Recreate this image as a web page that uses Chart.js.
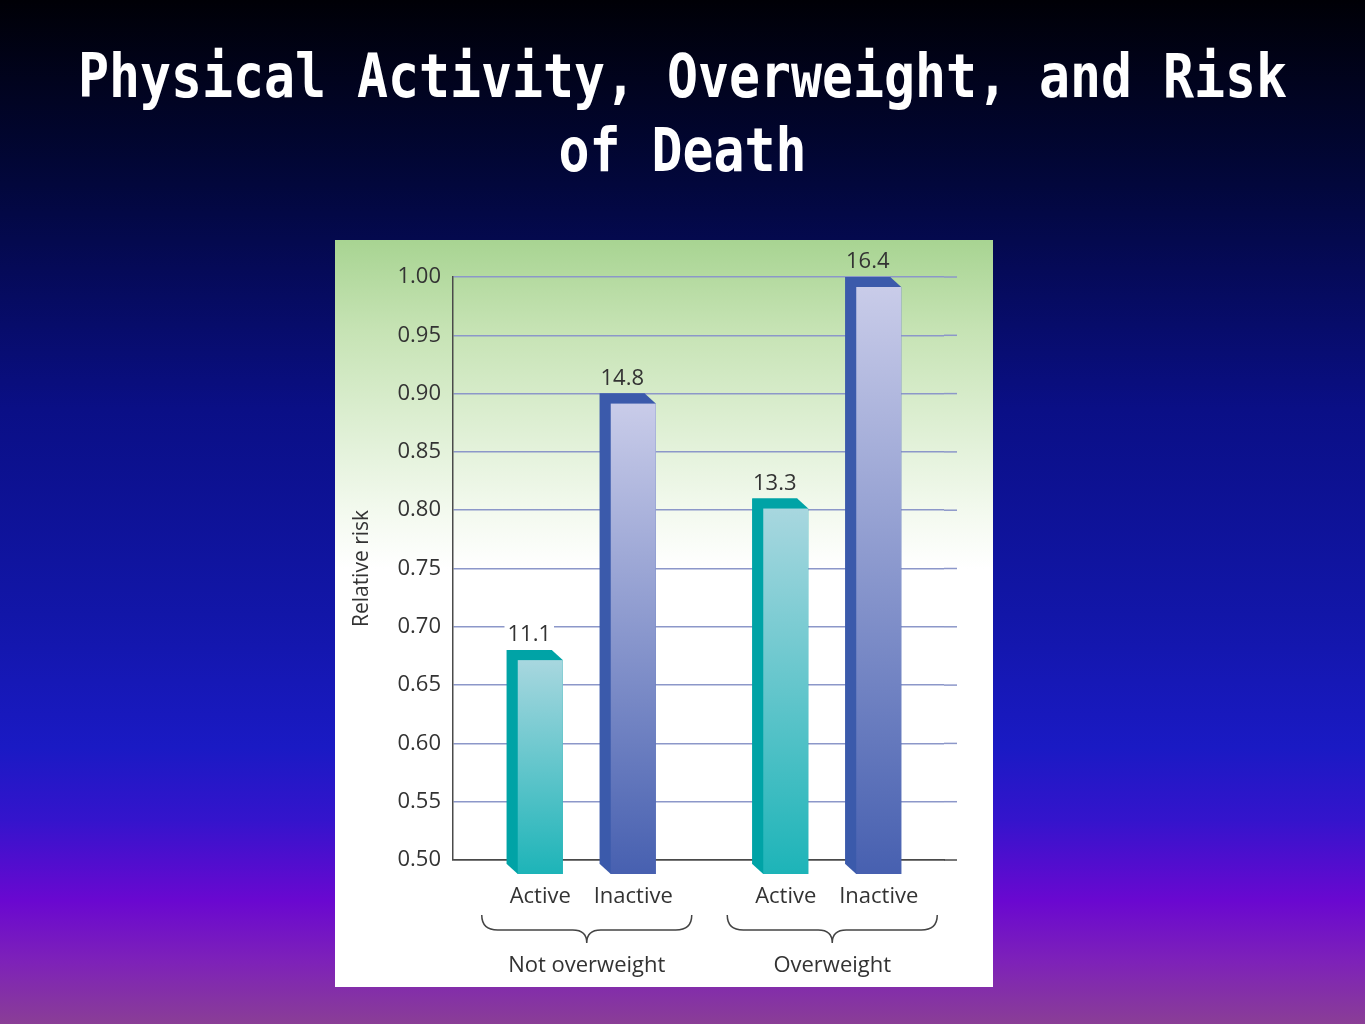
<!DOCTYPE html>
<html>
<head>
<meta charset="utf-8">
<title>Physical Activity, Overweight, and Risk of Death</title>
<script src="https://cdn.jsdelivr.net/npm/chart.js@4.4.1/dist/chart.umd.min.js"></script>
<style>
  html, body { margin: 0; padding: 0; }
  body {
    width: 1365px; height: 1024px; overflow: hidden; position: relative;
    background: linear-gradient(to bottom, #000006 0%, #02073c 18%, #0a0f86 40%, #1216a8 60%,
      #1a1ac4 73%, #3414cc 80%, #6a08d0 88%, #7e22b8 94%, #8a3e96 100%);
  }
  #title {
    position: absolute; left: 0; top: 40px; width: 1365px;
    text-align: center; color: #fff; white-space: pre;
    font: bold 51.5px/63px 'DejaVu Sans Mono', monospace;
    transform: scaleY(1.17); transform-origin: top center;
  }
  #panel {
    position: absolute; left: 335px; top: 240px; width: 658px; height: 747px;
    background: #fff;
  }
</style>
</head>
<body>
<div id="title">Physical Activity, Overweight, and Risk
of Death</div>
<div id="panel"><canvas id="riskChart"></canvas></div>

<script>
// data
const groupNames = ['Not overweight', 'Overweight'];
const barNames = ['Active', 'Inactive'];
const activeRisk = [0.68, 0.81];
const inactiveRisk = [0.90, 1.00];
const activeRate = [11.1, 13.3];
const inactiveRate = [14.8, 16.4];
const riskTicks = [0.50, 0.55, 0.60, 0.65, 0.70, 0.75, 0.80, 0.85, 0.90, 0.95, 1.00];

const rates = [activeRate, inactiveRate];

// 3d look of the bars
const dx = 11, dy = 10;
const faces = [
  { side: '#00a3a6', top: '#a8d7df', bottom: '#1db4b8' },
  { side: '#3b5aab', top: '#c9cce9', bottom: '#4760b0' }
];
const gridColor = '#8c97c9';
const axisColor = '#4a4a4a';
const textColor = '#333333';

Chart.defaults.font.family = "'Open Sans', sans-serif";

let panelFill = null;
function getPanelFill(chart) {
  if (!panelFill) {
    const g = chart.ctx.createLinearGradient(0, 0, 0, chart.height);
    g.addColorStop(0, '#a8d492');
    g.addColorStop(0.12, '#c6e3b4');
    g.addColorStop(0.26, '#e0f0d6');
    g.addColorStop(0.37, '#f4faf0');
    g.addColorStop(0.44, '#ffffff');
    g.addColorStop(1, '#ffffff');
    panelFill = g;
  }
  return panelFill;
}

const panelBg = {
  id: 'panelBg',
  beforeDraw(chart) {
    const ctx = chart.ctx;
    ctx.save();
    ctx.fillStyle = getPanelFill(chart);
    ctx.fillRect(0, 0, chart.width, chart.height);
    ctx.restore();
  }
};

const gridExtend = {
  id: 'gridExtend',
  beforeDatasetsDraw(chart) {
    const { ctx, chartArea, scales } = chart;
    ctx.save();
    ctx.lineWidth = 1.5;
    scales.y.ticks.forEach(t => {
      const py = scales.y.getPixelForValue(t.value);
      ctx.strokeStyle = t.value === riskTicks[0] ? axisColor : gridColor;
      ctx.beginPath();
      ctx.moveTo(chartArea.right, py);
      ctx.lineTo(chartArea.right + 13, py);
      ctx.stroke();
    });
    ctx.restore();
  }
};

const bar3d = {
  id: 'bar3d',
  afterDatasetsDraw(chart) {
    const ctx = chart.ctx;
    chart.data.datasets.forEach((ds, di) => {
      const meta = chart.getDatasetMeta(di);
      const f = faces[di];
      meta.data.forEach(el => {
        const { x, y, base, width } = el.getProps(['x', 'y', 'base', 'width'], true);
        const l = x - width / 2, r = x + width / 2;
        ctx.save();
        ctx.fillStyle = f.side;
        ctx.beginPath();
        ctx.moveTo(l, y);
        ctx.lineTo(r, y);
        ctx.lineTo(r + dx, y + dy);
        ctx.lineTo(r + dx, base + dy);
        ctx.lineTo(l + dx, base + dy);
        ctx.lineTo(l, base);
        ctx.closePath();
        ctx.fill();
        const g = ctx.createLinearGradient(0, y + dy, 0, base + dy);
        g.addColorStop(0, f.top);
        g.addColorStop(1, f.bottom);
        ctx.fillStyle = g;
        ctx.fillRect(l + dx, y + dy, width, base - y);
        ctx.restore();
      });
    });
  }
};

const annotations = {
  id: 'annotations',
  afterDraw(chart) {
    const { ctx, chartArea, scales } = chart;
    const bottom = chartArea.bottom;
    ctx.save();
    ctx.textAlign = 'center';
    ctx.textBaseline = 'alphabetic';
    ctx.font = "22px 'Open Sans', sans-serif";

    chart.data.datasets.forEach((ds, di) => {
      const meta = chart.getDatasetMeta(di);
      meta.data.forEach((el, i) => {
        const txt = rates[di][i].toFixed(1);
        const w = ctx.measureText(txt).width;
        // knock the grid line out behind the value
        ctx.fillStyle = getPanelFill(chart);
        ctx.fillRect(el.x - w / 2 - 3, el.y - 29, w + 6, 22);
        ctx.fillStyle = textColor;
        ctx.fillText(txt, el.x, el.y - 9);
        ctx.fillText(barNames[di], el.x + dx, bottom + 43);
      });
    });

    // braces and group names
    ctx.fillStyle = textColor;
    ctx.strokeStyle = '#444';
    ctx.lineWidth = 1.5;
    groupNames.forEach((name, i) => {
      const cx = scales.x.getPixelForValue(i) + dx;
      const hw = 105, y0 = bottom + 55, y1 = bottom + 70, y2 = bottom + 83;
      ctx.beginPath();
      ctx.moveTo(cx - hw, y0);
      ctx.quadraticCurveTo(cx - hw, y1, cx - hw + 16, y1);
      ctx.lineTo(cx - 14, y1);
      ctx.quadraticCurveTo(cx, y1, cx, y2);
      ctx.quadraticCurveTo(cx, y1, cx + 14, y1);
      ctx.lineTo(cx + hw - 16, y1);
      ctx.quadraticCurveTo(cx + hw, y1, cx + hw, y0);
      ctx.stroke();
      ctx.fillText(name, cx, bottom + 112);
    });
    ctx.restore();
  }
};

function draw() {
  new Chart(document.getElementById('riskChart'), {
    type: 'bar',
    data: {
      labels: groupNames,
      datasets: [
        { label: barNames[0], data: activeRisk, backgroundColor: faces[0].side, base: 0.4966, clip: false },
        { label: barNames[1], data: inactiveRisk, backgroundColor: faces[1].side, base: 0.4966, clip: false }
      ]
    },
    options: {
      responsive: true,
      maintainAspectRatio: false,
      animation: false,
      categoryPercentage: 0.7576,
      barPercentage: 0.4839,
      layout: { padding: { top: 37, right: 49, left: 0, bottom: 0 } },
      plugins: {
        legend: { display: false },
        tooltip: { enabled: false }
      },
      scales: {
        x: {
          grid: { display: false, drawTicks: false },
          ticks: { display: false },
          border: { display: true, color: axisColor, width: 1.5 },
          afterFit: s => { s.height = 127; }
        },
        y: {
          min: riskTicks[0],
          max: riskTicks[riskTicks.length - 1],
          afterFit: s => { s.width = 118; },
          afterBuildTicks: s => { s.ticks = riskTicks.map(v => ({ value: v })); },
          grid: {
            color: c => (c.tick && c.tick.value === riskTicks[0]) ? axisColor : gridColor,
            lineWidth: 1.5,
            drawTicks: false
          },
          border: { color: axisColor, width: 1.5 },
          ticks: {
            padding: 12,
            color: textColor,
            font: { size: 22 },
            callback: v => Number(v).toFixed(2)
          },
          title: {
            display: true,
            text: 'Relative risk',
            color: textColor,
            font: { size: 21 },
            padding: { top: 14, bottom: 4 }
          }
        }
      }
    },
    plugins: [panelBg, gridExtend, bar3d, annotations]
  });
}

document.fonts.load("22px 'Open Sans'").then(draw, draw);
</script>
</body>
</html>
